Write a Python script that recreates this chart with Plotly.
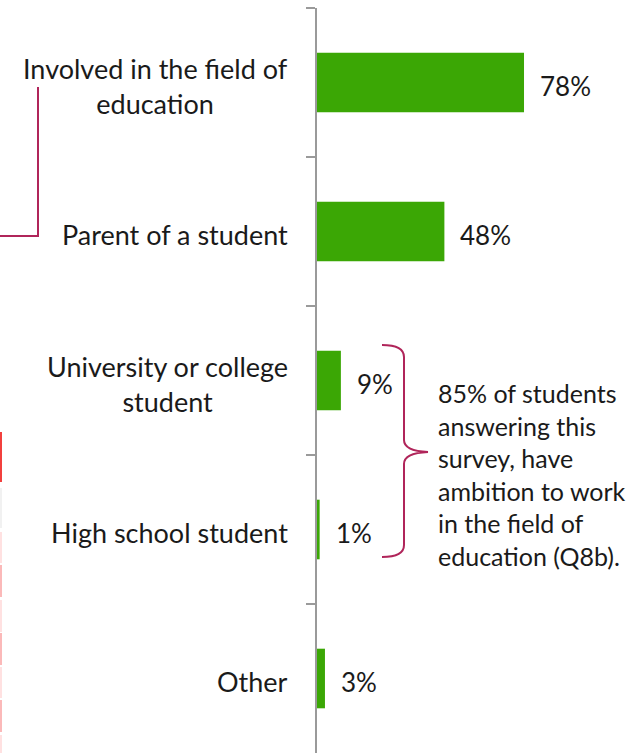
import plotly.graph_objects as go

# Respondent groups and share of respondents (%)
categories = [
    "Involved in the field of<br>education",
    "Parent of a student",
    "University or college<br>student",
    "High school student",
    "Other",
]
values = [78, 48, 9, 1, 3]
value_labels = ["78%", "48%", "9%", "1%", "3%"]

note_text = ("85% of students<br>answering this<br>survey, have<br>"
             "ambition to work<br>in the field of<br>education (Q8b).")

W, H = 643, 753
FONT = "Lato, Calibri, Carlito, sans-serif"
TEXT = "#1a1a1a"
BAR = "#3ba705"
ACCENT = "#b0255a"
AXIS = "#9a9a9a"

# plot area in pixels
X0, Y0 = 317, 8
PX_PER_PCT = 2.654


def px(x):
    return x / W


def py(y):
    return 1 - y / H


fig = go.Figure()
fig.add_trace(go.Bar(
    y=categories, x=values, orientation="h",
    marker=dict(color=BAR, line=dict(width=0)),
    hoverinfo="skip",
))

annotations = []
# category labels, centred lines, right edge near the axis
for cat in categories:
    annotations.append(dict(
        x=px(290), xref="paper", y=cat, yref="y",
        text=cat, showarrow=False, xanchor="right", yanchor="middle",
        align="center", yshift=-3,
        font=dict(family=FONT, size=27, color=TEXT),
    ))
# value labels beside each bar
for cat, v, lab in zip(categories, values, value_labels):
    annotations.append(dict(
        x=v, xref="x", y=cat, yref="y", text=lab, showarrow=False,
        xanchor="left", yanchor="middle", xshift=14, yshift=-3,
        font=dict(family=FONT, size=26, color=TEXT),
    ))
# note on the student groups
annotations.append(dict(
    x=px(436), xref="paper", y=py(474), yref="paper", text=note_text,
    showarrow=False, xanchor="left", yanchor="middle", align="left",
    font=dict(family=FONT, size=25, color=TEXT),
))


def path(points_cmd):
    out = []
    for tok in points_cmd:
        if isinstance(tok, str):
            out.append(tok)
        else:
            out.append(f"{px(tok[0]):.5f},{py(tok[1]):.5f}")
    return " ".join(out)


shapes = []
# curly brace grouping the two student categories
brace = path(["M", (382, 345), "Q", (404, 345), (404, 357), "L", (404, 440),
              "Q", (404, 451), (428, 452), "Q", (404, 453), (404, 464),
              "L", (404, 545), "Q", (404, 557), (382, 557)])
shapes.append(dict(type="path", xref="paper", yref="paper", path=brace,
                   line=dict(color=ACCENT, width=2)))
# connector line on the left
conn = path(["M", (38, 87), "L", (38, 236), "L", (-2, 236)])
shapes.append(dict(type="path", xref="paper", yref="paper", path=conn,
                   line=dict(color=ACCENT, width=2)))

# thin coloured strip along the left edge
strip = [
    (432, 482, "#f2403e"), (488, 528, "#f1f1f1"), (532, 563, "#ffe1e1"),
    (565, 597, "#fbb9b9"), (600, 632, "#ffe1e1"), (633, 665, "#fbb9b9"),
    (667, 698, "#ffe1e1"), (700, 732, "#fbb9b9"), (735, 753, "#ffe1e1"),
]
for ya, yb, c in strip:
    shapes.append(dict(type="rect", xref="paper", yref="paper",
                       x0=0, x1=px(2), y0=py(yb), y1=py(ya),
                       fillcolor=c, line=dict(width=0), layer="above"))

fig.update_layout(
    width=W, height=H,
    margin=dict(l=0, r=0, t=0, b=0),
    paper_bgcolor="white", plot_bgcolor="white",
    showlegend=False, bargap=0.6,
    annotations=annotations, shapes=shapes,
    xaxis=dict(domain=[px(X0), 1], range=[0, (W - X0) / PX_PER_PCT],
               visible=False, fixedrange=True),
    yaxis=dict(domain=[0, py(Y0)], type="category",
               categoryorder="array", categoryarray=categories,
               autorange="reversed", showticklabels=False,
               showline=True, linecolor=AXIS, linewidth=2,
               ticks="outside", tickson="boundaries", ticklen=9,
               tickcolor=AXIS, tickwidth=2, showgrid=False,
               zeroline=False, fixedrange=True),
)

fig.write_html("out.html")
